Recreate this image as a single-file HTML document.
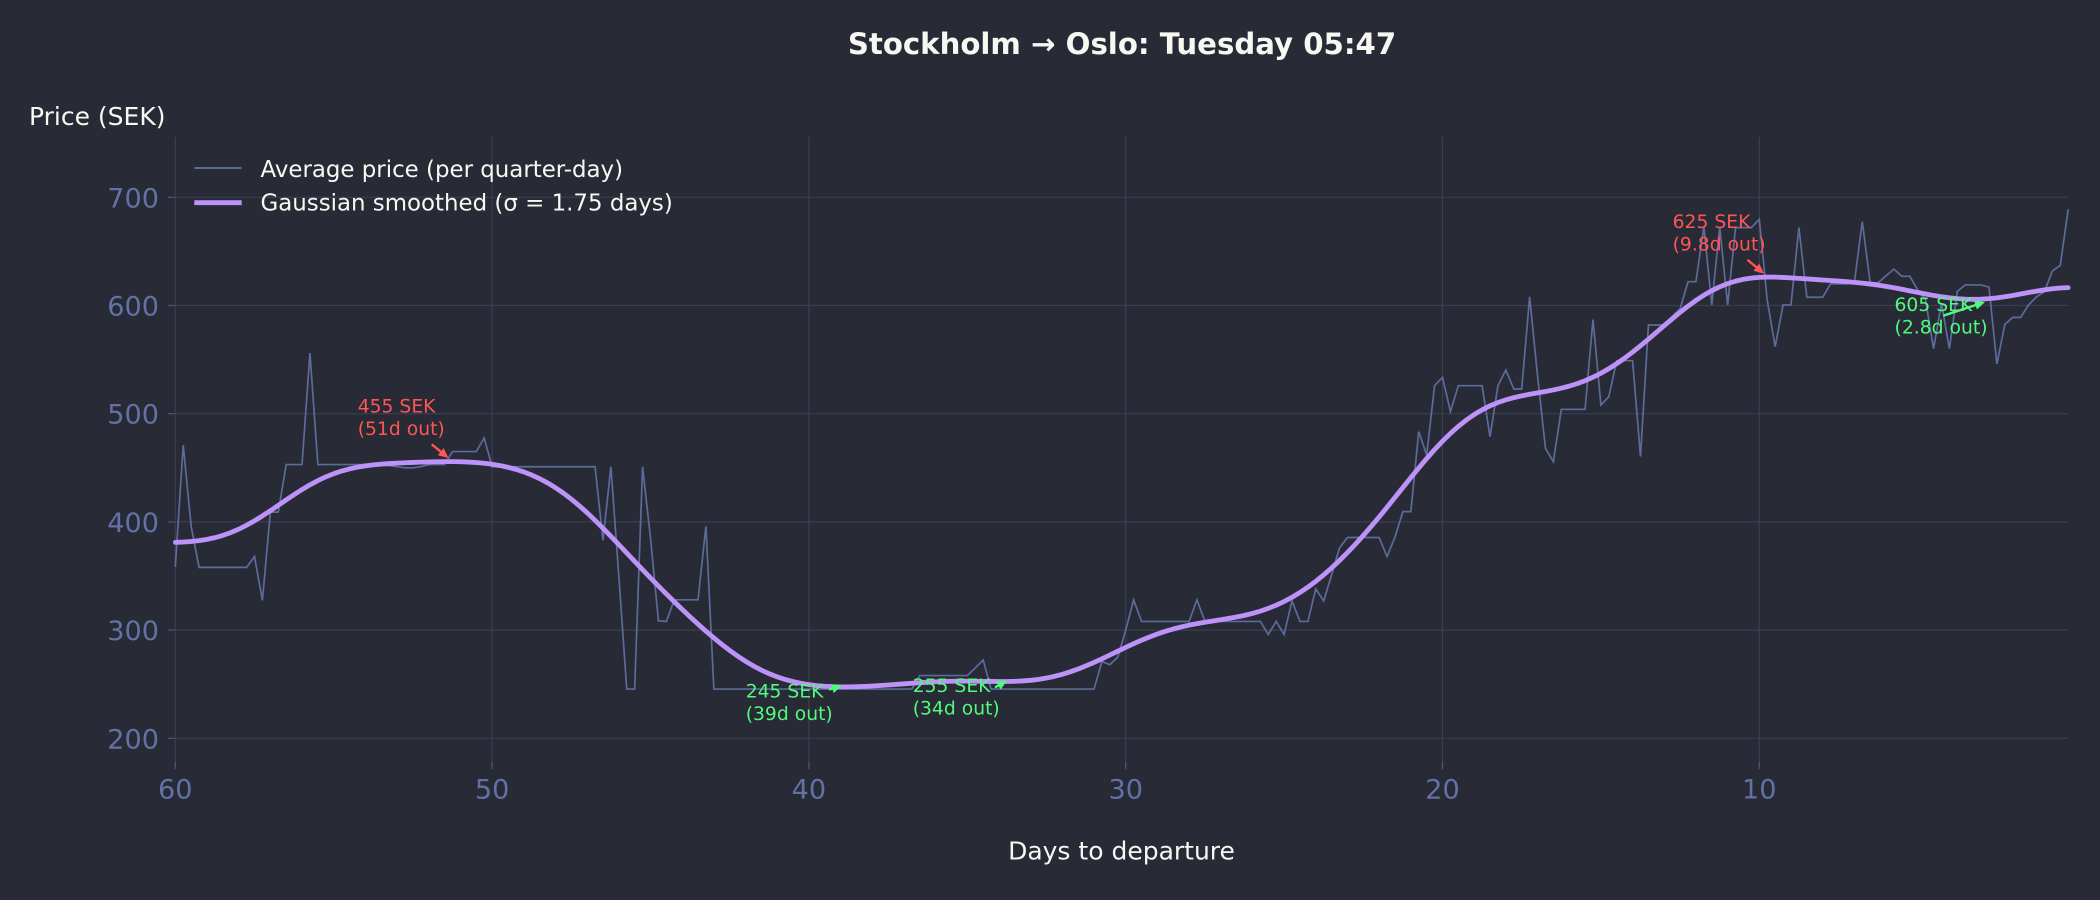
<!DOCTYPE html>
<html>
<head>
<meta charset="utf-8">
<style>
  html, body { margin:0; padding:0; background:#282a36; }
  svg { display:block; }
  text { font-family: "DejaVu Sans", "Liberation Sans", sans-serif; }
</style>
</head>
<body>
<svg id="chart" width="2100" height="900" viewBox="0 0 2100 900" xmlns="http://www.w3.org/2000/svg">
  <rect x="0" y="0" width="2100" height="900" fill="#282a36"/>

  <!-- grid -->
  <g stroke="#3b3e51" stroke-width="1.2" fill="none">
    <line x1="175.3" y1="197.3" x2="2068.2" y2="197.3"/>
    <line x1="175.3" y1="305.5" x2="2068.2" y2="305.5"/>
    <line x1="175.3" y1="413.7" x2="2068.2" y2="413.7"/>
    <line x1="175.3" y1="521.9" x2="2068.2" y2="521.9"/>
    <line x1="175.3" y1="630.1" x2="2068.2" y2="630.1"/>
    <line x1="175.3" y1="738.3" x2="2068.2" y2="738.3"/>
    <line x1="175.3" y1="137" x2="175.3" y2="762"/>
    <line x1="492.1" y1="137" x2="492.1" y2="762"/>
    <line x1="808.9" y1="137" x2="808.9" y2="762"/>
    <line x1="1125.7" y1="137" x2="1125.7" y2="762"/>
    <line x1="1442.5" y1="137" x2="1442.5" y2="762"/>
    <line x1="1759.3" y1="137" x2="1759.3" y2="762"/>
  </g>
  <!-- tick marks -->
  <g stroke="#4f5676" stroke-width="1.2">
    <line x1="168" y1="197.3" x2="175.3" y2="197.3"/>
    <line x1="168" y1="305.5" x2="175.3" y2="305.5"/>
    <line x1="168" y1="413.7" x2="175.3" y2="413.7"/>
    <line x1="168" y1="521.9" x2="175.3" y2="521.9"/>
    <line x1="168" y1="630.1" x2="175.3" y2="630.1"/>
    <line x1="168" y1="738.3" x2="175.3" y2="738.3"/>
    <line x1="175.3" y1="762" x2="175.3" y2="769"/>
    <line x1="492.1" y1="762" x2="492.1" y2="769"/>
    <line x1="808.9" y1="762" x2="808.9" y2="769"/>
    <line x1="1125.7" y1="762" x2="1125.7" y2="769"/>
    <line x1="1442.5" y1="762" x2="1442.5" y2="769"/>
    <line x1="1759.3" y1="762" x2="1759.3" y2="769"/>
  </g>
  <!-- y tick labels -->
  <g fill="#6272a4" font-size="27.1" text-anchor="end">
    <text x="159" y="207.3">700</text>
    <text x="159" y="315.5">600</text>
    <text x="159" y="423.7">500</text>
    <text x="159" y="531.9">400</text>
    <text x="159" y="640.1">300</text>
    <text x="159" y="748.3">200</text>
  </g>
  <!-- x tick labels -->
  <g fill="#6272a4" font-size="27.1" text-anchor="middle">
    <text x="175.3" y="798.3">60</text>
    <text x="492.1" y="798.3">50</text>
    <text x="808.9" y="798.3">40</text>
    <text x="1125.7" y="798.3">30</text>
    <text x="1442.5" y="798.3">20</text>
    <text x="1759.3" y="798.3">10</text>
  </g>

  <!-- series -->
  <path id="raw" d="" fill="none" stroke="#6272a4" stroke-opacity="0.9" stroke-width="1.7" stroke-linejoin="miter"/>
  <path id="smooth" d="" fill="none" stroke="#bd93f9" stroke-width="4.8" stroke-linejoin="round" stroke-linecap="round"/>

  <!-- annotations -->
  <g font-size="18.75" fill="#ff5555">
    <text x="357.7" y="412.5">455 SEK</text>
    <text x="357.7" y="435">(51d out)</text>
    <text x="1672.6" y="228">625 SEK</text>
    <text x="1672.6" y="250.5">(9.8d out)</text>
  </g>
  <g font-size="18.75" fill="#50fa7b">
    <text x="745.7" y="697.3">245 SEK</text>
    <text x="745.7" y="719.8">(39d out)</text>
    <text x="912.7" y="692">255 SEK</text>
    <text x="912.7" y="714.5">(34d out)</text>
    <text x="1894.5" y="311">605 SEK</text>
    <text x="1894.5" y="333.5">(2.8d out)</text>
  </g>
  <g id="arrows"></g>

  <!-- legend -->
  <line x1="194.3" y1="168" x2="241.7" y2="168" stroke="#6272a4" stroke-width="1.7"/>
  <line x1="194.3" y1="202.7" x2="241.7" y2="202.7" stroke="#bd93f9" stroke-width="4.8"/>
  <g fill="#f8f8f2" font-size="22.9">
    <text x="260.5" y="177">Average price (per quarter-day)</text>
    <text x="260.5" y="210.4">Gaussian smoothed (σ = 1.75 days)</text>
  </g>

  <!-- titles / labels -->
  <text x="1122" y="54" text-anchor="middle" font-size="29.2" font-weight="bold" fill="#f8f8f2">Stockholm → Oslo: Tuesday 05:47</text>
  <text x="29" y="125" font-size="25" fill="#f8f8f2">Price (SEK)</text>
  <text x="1121.5" y="859.3" text-anchor="middle" font-size="25" fill="#f8f8f2">Days to departure</text>
</svg>
<script>
(function(){
  var NS = "http://www.w3.org/2000/svg";
  var seg = [[358.5,1],[471,1],[396,1],[358,7],[368,1],[327.5,1],[409,2],[453,3],[556,1],[453,9],[452,1],[451,1],[450,2],[451,1],[453,3],[465,4],[477.5,1],[451,14],[383,1],[451,1],[350,1],[245.5,2],[451,1],[385,1],[308.7,1],[308,1],[328,4],[396,1],[245.5,26],[258,7],[265,1],[272.4,1],[245.5,14],[271,1],[268,1],[275,1],[300,1],[328,1],[308,7],[328,1],[308,8],[296,1],[308,1],[296,1],[327,1],[308,2],[338,1],[327,1],[351,1],[376,1],[385.6,5],[368,1],[386,1],[409.5,2],[483.4,1],[461.8,1],[525.9,1],[533.6,1],[502,1],[525.9,4],[478.7,1],[525.9,1],[540.4,1],[522.8,2],[608,1],[535,1],[468,1],[455.7,1],[504,4],[587,1],[508,1],[515.7,1],[549,3],[460.4,1],[582,3],[590,1],[597,1],[622,2],[672.8,1],[600.5,1],[672.8,1],[600.5,1],[672,3],[679.7,1],[605,1],[562,1],[600.5,2],[672,1],[607.6,3],[620,3],[621,1],[677.5,1],[621,2],[627.5,1],[633.6,1],[627,2],[614.5,1],[605,1],[560,1],[602,1],[560,1],[613,1],[619,3],[617,1],[546,1],[582.6,1],[589,2],[600.5,1],[608,1],[612.8,1],[632,1],[637,1],[689,1]];
  var v = [];
  seg.forEach(function(s){ for (var k=0;k<s[1];k++) v.push(s[0]); });
  var n = v.length;
  function X(i){ return 175.3 + i*7.92; }
  function Y(val){ return 197.3 + (700-val)*1.082; }
  var d = '';
  for (var i=0;i<n;i++){ d += (i?'L':'M') + X(i).toFixed(2) + ',' + Y(v[i]).toFixed(2); }
  document.getElementById('raw').setAttribute('d', d);
  var sigma = 7, r = 28, w = [], ws = 0;
  for (var k=-r;k<=r;k++){ var e = Math.exp(-k*k/(2*sigma*sigma)); w.push(e); ws += e; }
  for (var k=0;k<w.length;k++) w[k] /= ws;
  function at(j){
    while (j < 0 || j >= n) {
      if (j < 0) j = -j-1;
      if (j >= n) j = 2*n-j-1;
    }
    return v[j];
  }
  var s = '';
  for (var i=0;i<n;i++){
    var acc = 0;
    for (var k=-r;k<=r;k++) acc += w[k+r]*at(i+k);
    s += (i?'L':'M') + X(i).toFixed(2) + ',' + Y(acc).toFixed(2);
  }
  document.getElementById('smooth').setAttribute('d', s);

  // arrows with explicit heads
  var g = document.getElementById('arrows');
  function arrow(x1,y1,x2,y2,col){
    var dx = x2-x1, dy = y2-y1, L = Math.sqrt(dx*dx+dy*dy);
    var ux = dx/L, uy = dy/L, px = -uy, py = ux;
    var hl = 10, hw = 4.6;
    var bx = x2 - ux*hl, by = y2 - uy*hl;
    var ln = document.createElementNS(NS,'line');
    ln.setAttribute('x1',x1); ln.setAttribute('y1',y1);
    ln.setAttribute('x2',(x2-ux*hl*0.6).toFixed(2)); ln.setAttribute('y2',(y2-uy*hl*0.6).toFixed(2));
    ln.setAttribute('stroke',col); ln.setAttribute('stroke-width','2.4');
    g.appendChild(ln);
    var p = document.createElementNS(NS,'path');
    p.setAttribute('d','M'+x2.toFixed(2)+','+y2.toFixed(2)+
      'L'+(bx+px*hw).toFixed(2)+','+(by+py*hw).toFixed(2)+
      'L'+(bx-px*hw).toFixed(2)+','+(by-py*hw).toFixed(2)+'Z');
    p.setAttribute('fill',col);
    g.appendChild(p);
  }
  arrow(431.7,444.3,448.5,458.0,'#ff5555');
  arrow(1747.5,259.8,1764.0,273.6,'#ff5555');
  arrow(829.0,689.5,842.0,685.8,'#50fa7b');
  arrow(995.0,687.5,1007.0,680.6,'#50fa7b');
  arrow(1943.3,315.7,1985.0,302.0,'#50fa7b');
})();
</script>
</body>
</html>
